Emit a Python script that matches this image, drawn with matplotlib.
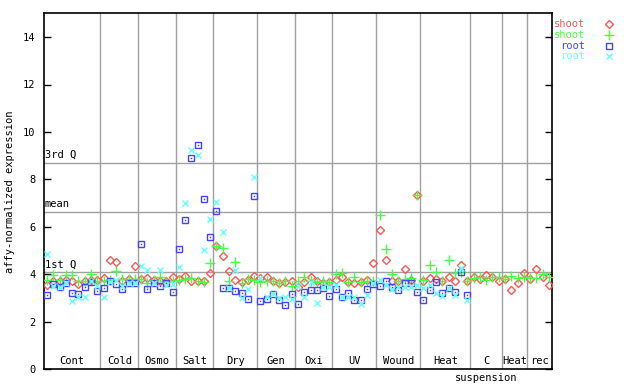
import matplotlib
matplotlib.use("Agg")
import matplotlib.pyplot as plt
from matplotlib.lines import Line2D
import numpy as np

groups = ["Cont", "Cold", "Osmo", "Salt", "Dry", "Gen", "Oxi", "UV", "Wound", "Heat", "C", "Heat", "rec"]
group_sublabels = ["", "", "", "", "", "", "", "", "", "", "suspension", "", ""]
group_sizes = [9, 6, 6, 6, 7, 6, 6, 7, 7, 8, 5, 4, 4]

shoot_red = [
    3.56, 3.70, 3.70, 3.75, 3.70, 3.58, 3.70, 3.78, 3.75,
    3.86, 4.61, 4.52, 3.72, 3.82, 4.35,
    3.80, 3.86, 3.78, 3.72, 3.70, 3.88,
    3.81, 3.93, 3.74, 3.74, 3.70, 4.05,
    5.20, 4.78, 4.13, 3.75, 3.68, 3.78, 3.95,
    3.86, 3.91, 3.71, 3.63, 3.66, 3.74,
    3.47, 3.66, 3.89, 3.70, 3.63, 3.66,
    3.77, 3.91, 3.67, 3.63, 3.67, 3.77, 4.47,
    5.87, 4.61, 3.72, 3.72, 4.23, 3.75, 7.34,
    3.73, 3.84, 3.80, 3.72, 3.91, 3.72, 4.39, 3.71,
    3.87, 3.79, 3.98, 3.87, 3.72,
    3.80, 3.33, 3.65, 4.07,
    3.80, 4.22, 3.88, 3.54,
]
shoot_green = [
    3.76, 3.96, 3.76, 3.96, 3.96, 3.72, 3.72, 4.00, 3.70,
    3.74, 3.76, 4.13, 3.80, 3.80, 3.80,
    3.80, 3.63, 3.78, 3.91, 3.70, 3.70,
    3.77, 3.81, 3.84, 3.74, 3.66, 4.47,
    5.20, 5.10, 3.71, 4.51, 3.65, 3.82, 3.75,
    3.66, 3.71, 3.71, 3.63, 3.71, 3.50,
    3.70, 3.87, 3.74, 3.67, 3.70, 3.67,
    4.02, 4.07, 3.67, 3.88, 3.67, 3.72, 3.70,
    6.49, 5.06, 4.01, 3.72, 3.81, 3.84, 7.34,
    3.76, 4.39, 4.10, 3.72, 4.60, 4.04, 4.10, 3.71,
    3.85, 3.90, 3.77, 3.87, 3.87,
    3.81, 3.92, 3.83, 3.90,
    3.84, 3.84, 4.01, 3.88,
]
root_blue = [
    3.12, 3.59, 3.48, 3.63, 3.20, 3.18, 3.46, 3.67, 3.30,
    3.42, 3.70, 3.58, 3.37, 3.63, 3.63,
    5.27, 3.37, 3.63, 3.51, 3.63, 3.25,
    5.06, 6.28, 8.90, 9.45, 7.17, 5.57,
    6.66, 3.42, 3.42, 3.29, 3.20, 2.96, 7.30,
    2.87, 2.95, 3.16, 2.91, 2.70, 3.16,
    2.74, 3.25, 3.33, 3.33, 3.42, 3.10,
    3.37, 3.06, 3.20, 2.93, 2.93, 3.37, 3.59,
    3.50, 3.71, 3.46, 3.33, 3.63, 3.63, 3.25,
    2.91, 3.33, 3.68, 3.20, 3.42, 3.25, 4.09, 3.12,
]
root_cyan = [
    4.86, 3.52, 3.48, 3.62, 2.86, 3.05, 3.05, 3.72, 3.52,
    3.04, 3.66, 3.78, 3.50, 3.63, 3.62,
    4.36, 4.18, 3.62, 4.18, 3.55, 3.58,
    4.30, 7.00, 9.22, 9.03, 5.02, 6.33,
    7.04, 5.78, 3.42, 4.19, 3.02, 3.37, 8.10,
    3.85, 3.06, 3.16, 3.02, 3.04, 2.97,
    3.50, 3.03, 3.66, 2.79, 3.45, 3.46,
    3.55, 3.05, 3.04, 3.05, 2.74, 3.13, 3.62,
    3.78, 3.55, 3.37, 3.45, 3.47, 3.46, 3.56,
    3.42, 3.54, 3.20, 3.08, 3.42, 3.12, 4.26, 2.90,
]
quartiles = {"1st Q": 4.09, "mean": 6.62, "3rd Q": 8.69}

RED = "#ff5555"
GREEN = "#44ff44"
BLUE = "#4444ff"
CYAN = "#66ffff"
GRID = "#a0a0a0"
FONT = "DejaVu Sans Mono"

fig = plt.figure(figsize=(6.4, 3.84), dpi=100)
ax = fig.add_axes([44/640, (384-369.3)/384, (552-44)/640, (369.3-13.3)/384])

n = sum(group_sizes)
x_shoot = np.arange(len(shoot_red)) + 0.5
x_root = np.arange(len(root_blue)) + 0.5

ax.set_xlim(0, n)
ax.set_ylim(0, 15)

# group separators
bounds = np.cumsum(group_sizes)
for b in bounds[:-1]:
    ax.axvline(b, color=GRID, lw=1, zorder=1)
for name, v in quartiles.items():
    ax.axhline(v, color=GRID, lw=1, zorder=1)
    ax.text(0.15, v + 0.12, name, fontsize=7.5, family=FONT, va="bottom", ha="left", zorder=2)

starts = np.concatenate([[0], bounds[:-1]])
for name, sub, s, e in zip(groups, group_sublabels, starts, bounds):
    ax.text((s + e) / 2, 0.55, name, fontsize=7.5, family=FONT, ha="center", va="top",
            zorder=2, clip_on=False)
    if sub:
        ax.text((s + e) / 2, -0.15, sub, fontsize=7.5, family=FONT, ha="center", va="top",
                zorder=2, clip_on=False)

ms_kw = dict(ls="none", zorder=3)
ax.plot(x_shoot, shoot_red, marker="D", ms=3.6, mfc="none", mec=RED, mew=1.0, **ms_kw)
ax.plot(x_shoot, shoot_green, marker="+", ms=6.5, mec=GREEN, mew=1.0, **ms_kw)
ax.plot(x_root, root_blue, marker="s", ms=4.5, mfc="none", mec=BLUE, mew=1.0, **ms_kw)
ax.plot(x_root, root_blue, marker="s", ms=1.0, mfc=BLUE, mec=BLUE, mew=0.0, **ms_kw)
ax.plot(x_root, root_cyan, marker="x", ms=4.5, mec=CYAN, mew=1.0, **ms_kw)

ax.set_yticks(np.arange(0, 15, 2))
ax.set_xticks([])
ax.tick_params(axis="y", direction="in", length=5, width=1, right=True, labelsize=7.5, pad=6)
for lab in ax.get_yticklabels():
    lab.set_family(FONT)
for sp in ax.spines.values():
    sp.set_linewidth(1.2)
ax.set_ylabel("affy-normalized expression", fontsize=7.5, family=FONT, labelpad=6)

# legend
leg = [("shoot", RED, dict(marker="D", ms=3.6, mfc="none", mec=RED, mew=1.0)),
       ("shoot", GREEN, dict(marker="+", ms=6.5, mec=GREEN, mew=1.0)),
       ("root", BLUE, dict(marker="s", ms=4.5, mfc="none", mec=BLUE, mew=1.0)),
       ("root", CYAN, dict(marker="x", ms=4.5, mec=CYAN, mew=1.0))]
for i, (lab, col, mk) in enumerate(leg):
    yp = 1 - (24 + i * 10.8) / 384
    fig.text(585/640, yp, lab, color=col, fontsize=7.5, family=FONT, ha="right", va="center")
    fig.add_artist(Line2D([609/640], [yp], transform=fig.transFigure, ls="none", **mk))

fig.savefig("out.png", dpi=100)
